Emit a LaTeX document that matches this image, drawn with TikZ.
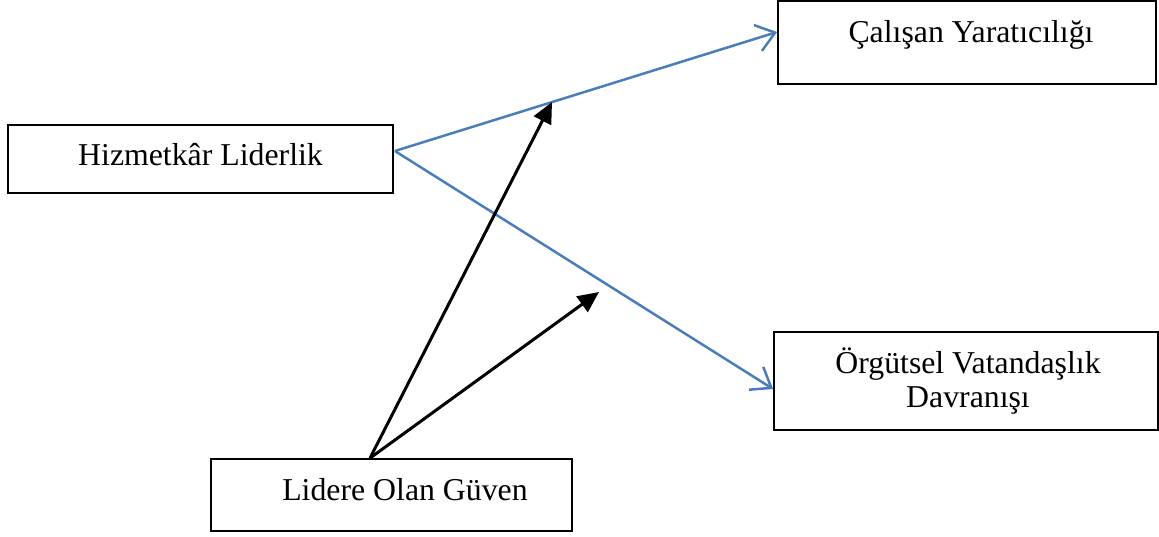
\documentclass[tikz,border=0pt]{standalone}
\usepackage{fontspec}
\setmainfont{Liberation Serif}
\usetikzlibrary{arrows.meta,calc}
\definecolor{linkblue}{RGB}{74,126,187}
\begin{document}
\begin{tikzpicture}[x=1pt,y=-1pt,
  box/.style={draw=black,line width=1.8pt,minimum width=#1,inner sep=0pt},
  lbl/.style={anchor=base,inner sep=0pt,font=\fontsize{31.8}{36}\selectfont},
  blue arrow/.style={draw=linkblue,line width=2.5pt,-{Straight Barb[length=18pt,width=27pt,line width=2.5pt]}},
  black arrow/.style={draw=black,line width=3pt,-{Triangle[length=21pt,width=19pt]}}]
\useasboundingbox (0,0) rectangle (1159,536);
% boxes
\node[box=385pt,minimum height=68pt] (hiz) at (200.5,159) {};
\node[box=378pt,minimum height=83pt] (cal) at (967,42.5) {};
\node[box=384pt,minimum height=98pt] (org) at (966,381) {};
\node[box=361pt,minimum height=72pt] (lid) at (391.5,495) {};
% labels
\node[lbl] (hizt) at (200.5,165) {Hizmetkâr Liderlik};
\node[lbl] (calt) at (971,42) {Çalışan Yaratıcılığı};
\node[lbl] (orgt1) at (968,373) {Örgütsel Vatandaşlık};
\node[lbl] (orgt2) at (968,407) {Davranışı};
\node[lbl] (lidt) at (405,500) {Lidere Olan Güven};
% free ends of the moderating arrows
\coordinate (m1) at (552,102);
\coordinate (m2) at (599,292);
% connectors
\draw[blue arrow] ($(hiz.east)+(1,-8)$) -- ($(cal.west)+(0,-10.5)$);
\draw[blue arrow] ($(hiz.east)+(1,-8)$) -- ($(org.west)+(0,8)$);
\draw[black arrow] ($(lid.north)+(-21.5,0)$) -- (m1);
\draw[black arrow] ($(lid.north)+(-21.5,0)$) -- (m2);
\end{tikzpicture}
\end{document}
